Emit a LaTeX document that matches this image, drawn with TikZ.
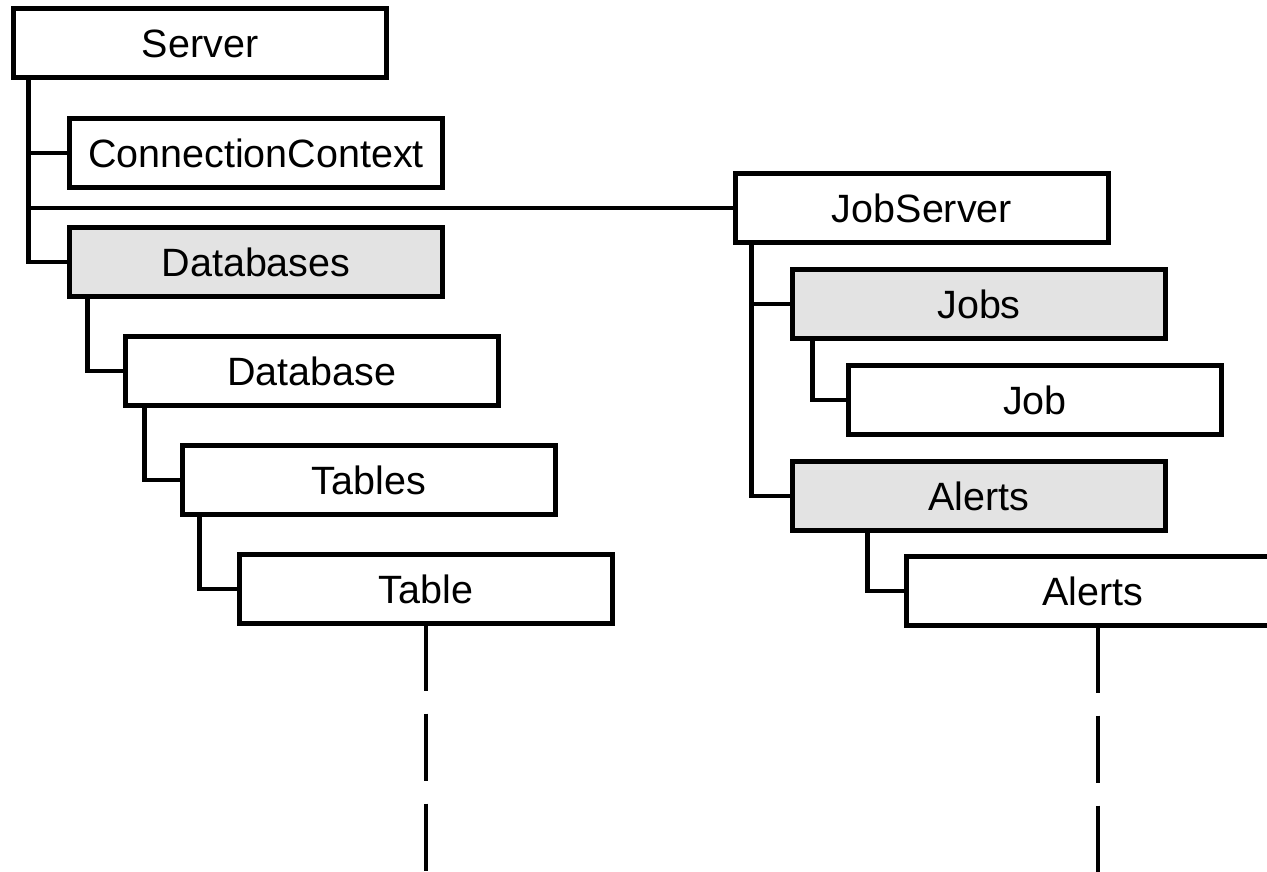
\documentclass[tikz,border=0pt]{standalone}
\usepackage{fontspec}
\setmainfont{Liberation Sans}
\definecolor{boxgray}{HTML}{E3E3E3}
\begin{document}
\begin{tikzpicture}[x=1pt,y=-1pt,
  objbox/.style={draw=black, line width=4.6pt, fill=white, rectangle, outer sep=0pt,
    minimum width=373pt, minimum height=69pt, inner sep=0pt,
    font=\fontsize{39.5}{42}\selectfont, text height=28.3pt, text depth=0pt},
  collbox/.style={objbox, fill=boxgray},
  link/.style={draw=black, line width=4.3pt, line cap=butt, line join=miter},
  dashlink/.style={link, dash pattern=on 67pt off 23pt}]
\useasboundingbox (0,0) rectangle (1267,871);
\clip (0,0) rectangle (1267,871);
\fill[white] (0,0) rectangle (1267,871);
% left tree nodes
\node[objbox]  (server)  at (200,43)  {Server};
\node[objbox]  (cc)      at (256,153) {ConnectionContext};
\node[collbox] (dbs)     at (256,262) {Databases};
\node[objbox]  (db)      at (312,371) {Database};
\node[objbox]  (tables)  at (369,480) {Tables};
\node[objbox]  (table)   at (426,589) {Table};
% right tree nodes
\node[objbox]  (js)      at (922,208) {JobServer};
\node[collbox] (jobs)    at (979,304) {Jobs};
\node[objbox]  (job)     at (1035,400) {Job};
\node[collbox] (alerts)  at (979,496) {Alerts};
\node[objbox]  (alert)   at (1093,591) {Alerts};
% bottom coordinates for dashed continuation
\coordinate (tableEnd) at (426,880);
\coordinate (alertEnd) at (1098,880);
% connectors
\draw[link] ([xshift=15pt]server.south west) |- (cc.west);
\draw[link] ([xshift=15pt]server.south west) |- (js.west);
\draw[link] ([xshift=15pt]server.south west) |- (dbs.west);
\draw[link] ([xshift=18pt]dbs.south west) |- (db.west);
\draw[link] ([xshift=19pt]db.south west) |- (tables.west);
\draw[link] ([xshift=17pt]tables.south west) |- (table.west);
\draw[link] ([xshift=16pt]js.south west) |- (jobs.west);
\draw[link] ([xshift=16pt]js.south west) |- (alerts.west);
\draw[link] ([xshift=20pt]jobs.south west) |- (job.west);
\draw[link] ([xshift=75pt]alerts.south west) |- (alert.west);
\draw[dashlink] (table.south) -- (tableEnd);
\draw[dashlink] ([xshift=5pt]alert.south) -- (alertEnd);
% redraw nodes on top so their borders cover line ends
\node[objbox]  at (server) {Server};
\node[objbox]  at (cc) {ConnectionContext};
\node[collbox] at (dbs) {Databases};
\node[objbox]  at (db) {Database};
\node[objbox]  at (tables) {Tables};
\node[objbox]  at (table) {Table};
\node[objbox]  at (js) {JobServer};
\node[collbox] at (jobs) {Jobs};
\node[objbox]  at (job) {Job};
\node[collbox] at (alerts) {Alerts};
\node[objbox]  at (alert) {Alerts};
\end{tikzpicture}
\end{document}
